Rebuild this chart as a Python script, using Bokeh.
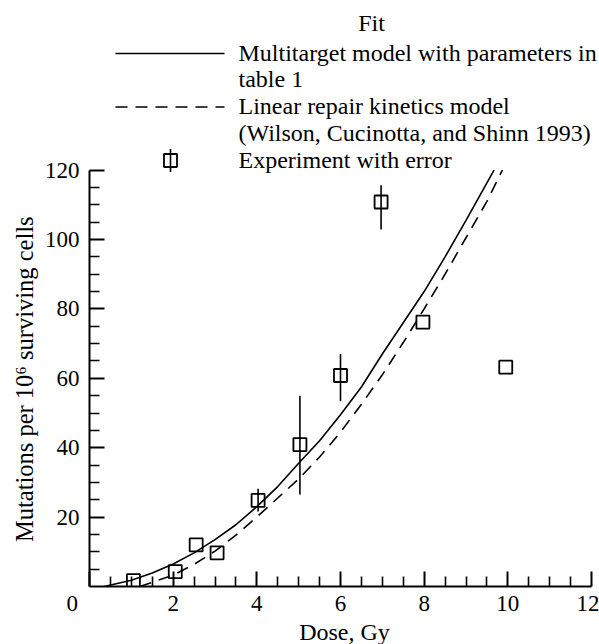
import numpy as np
from bokeh.plotting import figure
from bokeh.models import Range1d, FixedTicker, Label, LinearAxis
from bokeh.embed import file_html
from bokeh.resources import INLINE

# ---------------- data ----------------
exp_dose = [1.05, 2.05, 2.55, 3.05, 4.03, 5.03, 6.0, 6.97, 7.97, 9.95]
exp_mut = [1.7, 4.3, 12.0, 9.7, 24.8, 40.9, 60.8, 110.8, 76.2, 63.2]

err_dose = [4.03, 5.03, 6.0, 6.97]
err_low = [21.6, 26.5, 53.4, 102.9]
err_high = [28.2, 55.0, 67.0, 115.6]

multi_dose = [0.35, 1.0, 1.5, 2.0, 2.5, 3.0, 3.5, 4.0, 4.5, 5.0, 5.5, 6.0,
              6.5, 7.0, 7.5, 8.0, 8.5, 9.0, 9.67]
multi_mut = [0.0, 1.8, 3.9, 6.5, 9.7, 13.5, 17.8, 23.0, 28.8, 35.5, 42.0, 49.5,
             57.5, 67.0, 76.0, 85.0, 95.0, 105.5, 120.0]

lr_dose = [1.2, 1.5, 2.0, 2.5, 3.0, 3.5, 4.0, 4.5, 5.0, 5.5, 6.0, 6.5, 7.0,
           7.5, 8.0, 8.5, 9.0, 9.5, 9.87]
lr_mut = [0.0, 1.2, 3.3, 6.4, 10.2, 14.8, 20.0, 25.5, 31.0, 37.3, 44.5, 52.5,
          61.0, 70.3, 80.0, 90.0, 100.5, 111.0, 120.0]

x_major = [0, 2, 4, 6, 8, 10, 12]
x_minor = [0.5, 1, 1.5, 2.5, 3, 3.5, 4.5, 5, 5.5, 6.5, 7, 7.5, 8.5, 9, 9.5,
           10.5, 11, 11.5]
y_major = [20, 40, 60, 80, 100, 120]
y_minor = [5, 10, 15, 25, 30, 35, 45, 50, 55, 65, 70, 75, 85, 90, 95, 105,
           110, 115]

x_title = "Dose, Gy"
y_title = "Mutations per 10\u2076 surviving cells"
origin_label = "0"

legend_title = "Fit"
legend_texts = ["Multitarget model with parameters in", "table 1",
                "Linear repair kinetics model",
                "(Wilson, Cucinotta, and Shinn 1993)",
                "Experiment with error"]

FONT = "'Liberation Serif', 'Times New Roman', Times, serif"

# ---------------- layout helpers (canvas pixels -> data) ----------------
X0_PX, XS = 89.0, 502.0 / 12.0
Y0_PX, YS = 586.0, 3.47
FRAME_W, FRAME_H = 510, 586
NBSP = "\u00a0"


def dx(px):
    return (px - X0_PX) / XS


def dy(py):
    return (Y0_PX - py) / YS


p = figure(frame_width=FRAME_W, frame_height=FRAME_H,
           x_range=Range1d(0, FRAME_W / XS), y_range=Range1d(0, FRAME_H / YS),
           output_backend="svg", toolbar_location=None,
           x_axis_location=None, y_axis_location=None,
           min_border_left=89, min_border_right=0, min_border_top=0,
           min_border_bottom=58)
p.outline_line_color = None
p.xgrid.grid_line_color = None
p.ygrid.grid_line_color = None
p.background_fill_color = "white"
p.border_fill_color = "white"

# origin "0" sits left of the corner: pad with no-break spaces
xaxis = LinearAxis(ticker=FixedTicker(ticks=x_major, minor_ticks=x_minor),
                   bounds=(0, 12),
                   major_label_overrides={0: origin_label + NBSP * 6})
yaxis = LinearAxis(ticker=FixedTicker(ticks=y_major, minor_ticks=y_minor),
                   bounds=(0, 120))
for ax in (xaxis, yaxis):
    ax.axis_line_width = 2
    ax.axis_line_color = "black"
    ax.major_tick_in = 15
    ax.major_tick_out = 0
    ax.minor_tick_in = 10
    ax.minor_tick_out = 0
    ax.major_tick_line_width = 2
    ax.minor_tick_line_width = 1.6
    ax.major_label_text_font = FONT
    ax.major_label_text_font_size = "23px"
    ax.major_label_text_color = "black"
    ax.axis_label_text_font = FONT
    ax.axis_label_text_font_style = "normal"
    ax.axis_label_text_color = "black"
xaxis.major_label_standoff = 4
xaxis.axis_label = x_title
xaxis.axis_label_text_font_size = "24px"
xaxis.axis_label_standoff = 0
yaxis.major_label_standoff = 10
# the title is centred on the frame; trailing no-break spaces move it down
yaxis.axis_label = y_title + NBSP * 28
yaxis.axis_label_text_font_size = "24.5px"
yaxis.axis_label_standoff = 4
p.add_layout(xaxis, "below")
p.add_layout(yaxis, "left")

# curves
p.line(multi_dose, multi_mut, line_color="black", line_width=1.6)
p.line(lr_dose, lr_mut, line_color="black", line_width=1.6, line_dash="12 8")

# experiment with error bars
p.segment(err_dose, err_low, err_dose, err_high, line_color="black",
          line_width=1.6)
p.scatter(exp_dose, exp_mut, marker="square", size=13, fill_color=None,
          line_color="black", line_width=1.8)

# ---------------- legend ----------------
LEG_X0, LEG_X1, LEG_TX = 115, 224, 238
ROW0, STEP = 53.0, 26.75
rows = [ROW0 + i * STEP for i in range(len(legend_texts))]
TEXT_DY = -1  # text baseline relative to the row's sample line

p.add_layout(Label(x=dx(371), y=dy(22), text=legend_title, text_font=FONT,
                   text_font_size="24px", text_align="center",
                   text_baseline="alphabetic", text_color="black"))
for t, r in zip(legend_texts, rows):
    p.add_layout(Label(x=dx(LEG_TX), y=dy(r + TEXT_DY), text=t, text_font=FONT,
                       text_font_size="24px", text_align="left",
                       text_baseline="alphabetic", text_color="black"))

p.line([dx(LEG_X0), dx(LEG_X1)], [dy(rows[0])] * 2, line_color="black",
       line_width=1.6)
p.line([dx(LEG_X0), dx(LEG_X1)], [dy(rows[2])] * 2, line_color="black",
       line_width=1.6, line_dash="12 8")
mx, my = dx(170), rows[4]
p.segment([mx], [dy(my - 11.5)], [mx], [dy(my + 11.5)], line_color="black",
          line_width=1.6)
p.scatter([mx], [dy(my)], marker="square", size=13, fill_color=None,
          line_color="black", line_width=1.8)

open("out.html", "w").write(file_html(p, INLINE))
